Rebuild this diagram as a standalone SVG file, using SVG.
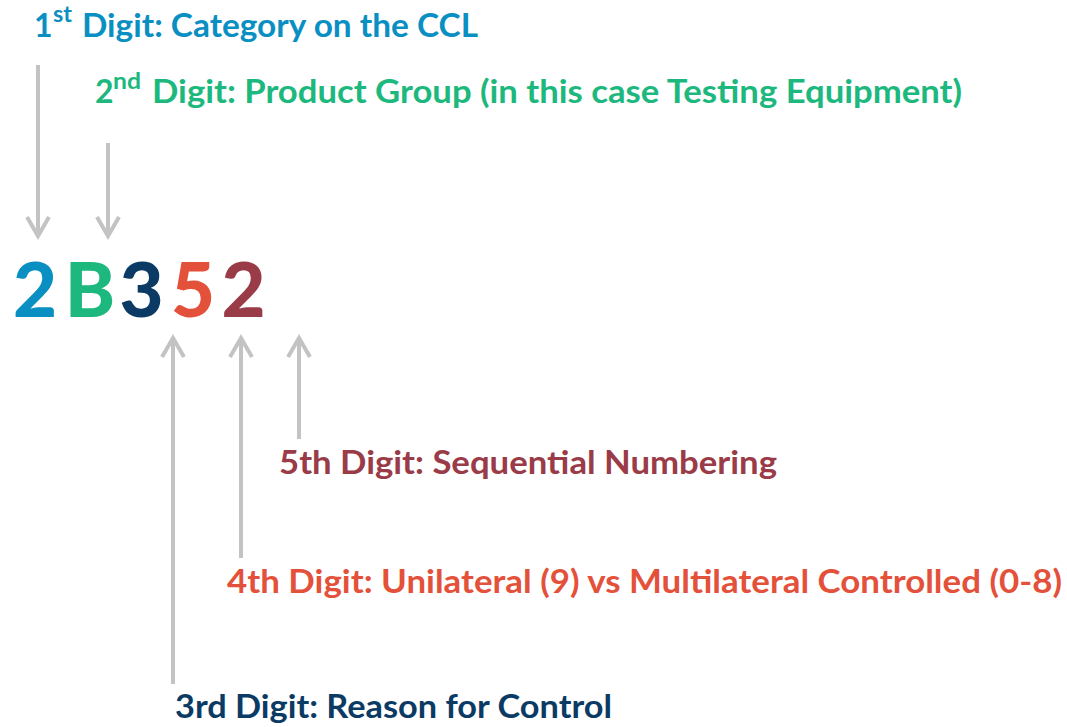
<svg xmlns="http://www.w3.org/2000/svg" width="1067" height="727" viewBox="0 0 1067 727">
  <style>
    .t { font-family: Lato, "Open Sans", "Liberation Sans", sans-serif; font-weight: bold; font-size: 32px; }
    .sup { font-family: Lato, "Open Sans", "Liberation Sans", sans-serif; font-weight: bold; font-size: 22px; }
    .big { font-family: Lato, "Open Sans", "Liberation Sans", sans-serif; font-weight: 900; font-size: 76px; text-anchor: middle; }
    .c1 { fill: #0A8FC2; }
    .c2 { fill: #1DB87E; }
    .c3 { fill: #0B3B64; }
    .c4 { fill: #E4513B; }
    .c5 { fill: #9A3B48; }
    .arrow { stroke: #C3C3C3; stroke-width: 4; fill: none; marker-end: url(#chev); }
  </style>
  <defs>
    <marker id="chev" markerUnits="userSpaceOnUse" orient="auto" refX="0" refY="0" markerWidth="30" markerHeight="30" overflow="visible">
      <path d="M-19,-11 L0,0 L-19,11" fill="none" stroke="#C3C3C3" stroke-width="4" stroke-linejoin="miter"/>
    </marker>
  </defs>

  <g id="connectors">
    <line class="arrow" x1="38" y1="65" x2="38" y2="236"/>
    <line class="arrow" x1="108" y1="143" x2="108" y2="236"/>
    <line class="arrow" x1="173" y1="684" x2="173" y2="338"/>
    <line class="arrow" x1="241" y1="558" x2="241" y2="338"/>
    <line class="arrow" x1="299" y1="439" x2="299" y2="338"/>
  </g>

  <g id="code">
    <text class="big c1" x="35" y="317">2</text>
    <text class="big c2" x="90" y="317">B</text>
    <text class="big c3" x="141.5" y="317">3</text>
    <text class="big c4" x="193" y="317">5</text>
    <text class="big c5" x="243.5" y="317">2</text>
  </g>

  <g id="label1">
    <text class="t c1" x="34" y="37">1</text>
    <text class="sup c1" x="53" y="22" textLength="19" lengthAdjust="spacingAndGlyphs">st</text>
    <text class="t c1" x="82" y="37" textLength="396" lengthAdjust="spacingAndGlyphs">Digit: Category on the CCL</text>
  </g>

  <g id="label2">
    <text class="t c2" x="95" y="103">2</text>
    <text class="sup c2" x="113" y="89" textLength="28" lengthAdjust="spacingAndGlyphs">nd</text>
    <text class="t c2" x="152" y="103" textLength="810" lengthAdjust="spacingAndGlyphs">Digit: Product Group (in this case Testing Equipment)</text>
  </g>

  <g id="label5">
    <text class="t c5" x="279" y="474" textLength="498" lengthAdjust="spacingAndGlyphs">5th Digit: Sequential Numbering</text>
  </g>

  <g id="label4">
    <text class="t c4" x="227" y="593" textLength="835" lengthAdjust="spacingAndGlyphs">4th Digit: Unilateral (9) vs Multilateral Controlled (0-8)</text>
  </g>

  <g id="label3">
    <text class="t c3" x="175" y="718" textLength="437" lengthAdjust="spacingAndGlyphs">3rd Digit: Reason for Control</text>
  </g>
</svg>
